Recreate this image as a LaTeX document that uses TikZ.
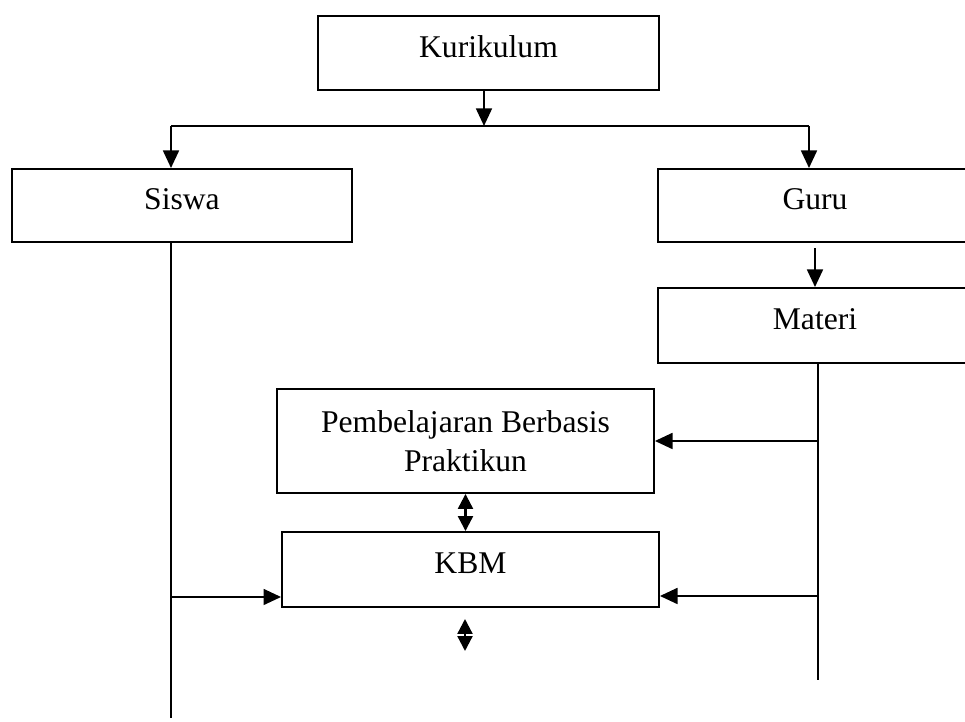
\documentclass[tikz,border=0pt]{standalone}
\usepackage{fontspec}
\setmainfont{Liberation Serif}
\usetikzlibrary{positioning,arrows.meta}

\begin{document}
\begin{tikzpicture}[x=0.02cm,y=-0.02cm,
        box/.style={draw, line width=1.1pt, inner sep=0pt, text depth=0.26cm,
                    font=\fontsize{18}{22}\selectfont, align=center},
        arr/.style={-{Triangle[length=10pt,width=9pt]}, line width=1.3pt},
        dbl/.style={{Triangle[length=8.5pt,width=8.5pt]}-{Triangle[length=8.5pt,width=8.5pt]}, line width=1.3pt}]
                \clip (0,0) rectangle (965,722);

                \node[box, minimum width=6.82cm, minimum height=1.48cm] (kur)    at (488.5,53)  {Kurikulum};
                \node[box, minimum width=6.80cm, minimum height=1.46cm] (siswa)  at (182,205.5) {Siswa};
                \node[box, minimum width=6.28cm, minimum height=1.46cm] (guru)   at (815,205.5) {Guru};
                \node[box, minimum width=6.28cm, minimum height=1.50cm] (materi) at (815,325.5) {Materi};
                \node[box, minimum width=7.54cm, minimum height=2.08cm, text depth=0pt] (pemb) at (465.5,441) {Pembelajaran Berbasis\\Praktikun};
                \node[box, minimum width=7.54cm, minimum height=1.50cm] (kbm)    at (470.5,569.5) {KBM};

                \coordinate (split) at (484,126);
                \coordinate (left)  at (171,126);
                \coordinate (right) at (809,126);
                \coordinate (sEnd)  at (171,718);
                \coordinate (mEnd)  at (818,680);
                \coordinate (lowL)  at (171,597);
                \coordinate (lowR)  at (818,596);
                \coordinate (up1)   at (465,619);
                \coordinate (up2)   at (465,651);

                \draw[arr] (split |- kur.south) -- (split);
                \draw[line width=1.3pt] (left) -- (right);
                \draw[arr] (left) -- (left |- siswa.north);
                \draw[arr] (right) -- (right |- guru.north);
                \draw[arr] ([yshift=-3pt]guru.south) -- (materi.north);

                \draw[line width=1.1pt] (siswa.south -| sEnd) -- (sEnd);
                \draw[line width=1.1pt] (materi.south -| mEnd) -- (mEnd);

                \draw[arr] (mEnd |- pemb.east) -- (pemb.east);
                \draw[arr] (lowR) -- (lowR -| kbm.east);
                \draw[arr] (lowL) -- (lowL -| kbm.west);

                \draw[dbl] (pemb.south) -- (pemb.south |- kbm.north);
                \draw[dbl] (up1) -- (up2);
\end{tikzpicture}
\end{document}
